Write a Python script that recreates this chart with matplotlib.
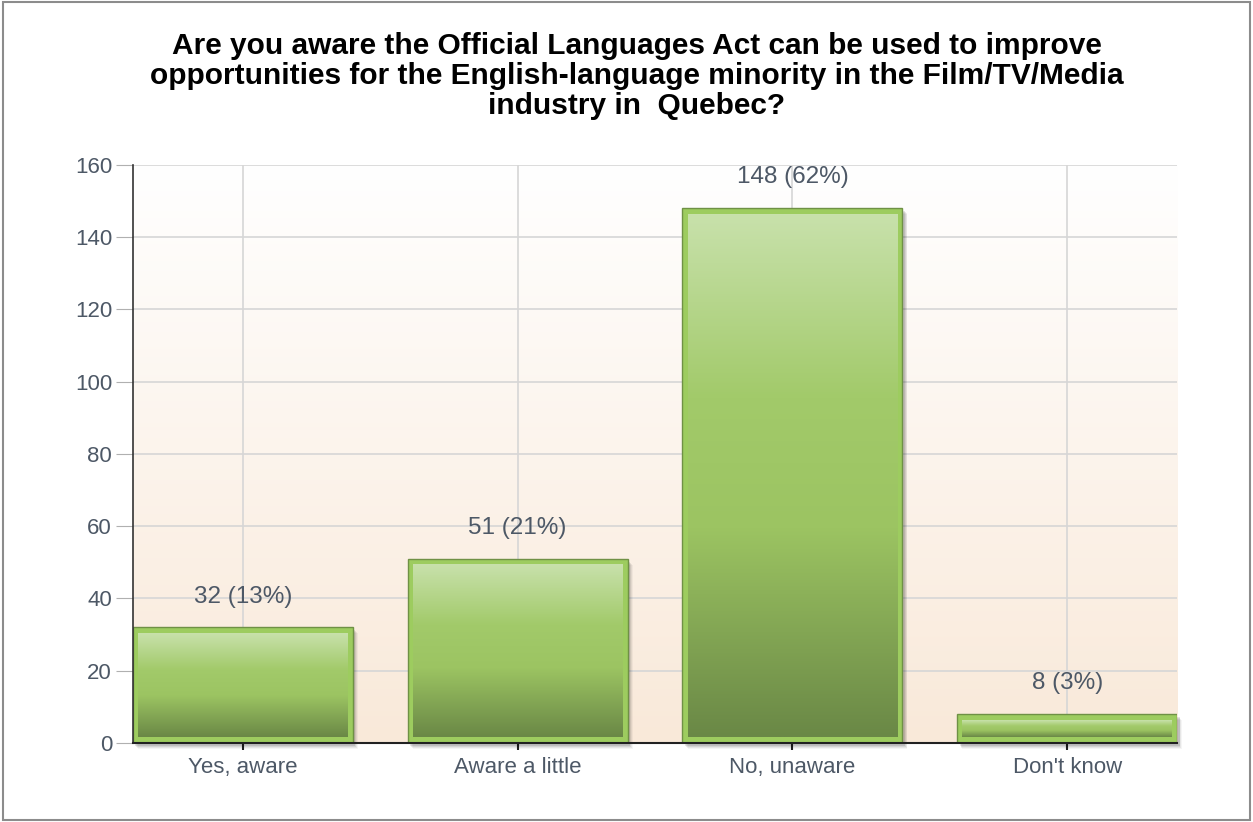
import numpy as np
import matplotlib
matplotlib.use("Agg")
import matplotlib.pyplot as plt
import matplotlib.patches
from matplotlib.colors import LinearSegmentedColormap

plt.rcParams["font.family"] = ["Liberation Sans", "DejaVu Sans"]

categories = ["Yes, aware", "Aware a little", "No, unaware", "Don't know"]
counts = [32, 51, 148, 8]
percents = [13, 21, 62, 3]
yticks = [0, 20, 40, 60, 80, 100, 120, 140, 160]
title = ("Are you aware the Official Languages Act can be used to improve\n"
         "opportunities for the English-language minority in the Film/TV/Media\n"
         "industry in  Quebec?")

TEXT = "#4d5866"
bar_cmap = LinearSegmentedColormap.from_list(
    "bar", [(0.0, "#c8e1ab"), (0.35, "#a2ca6a"), (0.6, "#9cc462"), (1.0, "#6a8846")])
bg_cmap = LinearSegmentedColormap.from_list("bg", ["#ffffff", "#f9e9d9"])

fig = plt.figure(figsize=(12.53, 8.22), dpi=100)
fig.patches.append(matplotlib.patches.Rectangle(
    (0.002, 0.003), 0.996, 0.994, transform=fig.transFigure,
    fill=False, edgecolor="#8c8c8c", linewidth=1.5))

ax = fig.add_axes([0.1061, 0.0961, 0.8333, 0.7032])
x = np.arange(len(categories))
width = 0.8
ax.set_xlim(-0.4, len(categories) - 0.6)
ax.set_ylim(0, 160)

# soft peach background fading up to white
grad = np.linspace(0, 1, 256).reshape(-1, 1)
ax.imshow(grad, cmap=bg_cmap, aspect="auto", extent=(-0.4, len(categories) - 0.6, 0, 160),
          origin="upper", zorder=0)

ax.set_yticks(yticks)
ax.set_xticks(x)
ax.set_xticklabels(categories)
ax.grid(True, color="#d6d6d6", linewidth=1.2, zorder=1)
ax.set_axisbelow(True)

bars = ax.bar(x, counts, width=width, color="#9dcc5f", edgecolor="#6f9145",
              linewidth=1.0, zorder=3)

px = 0.8 * len(categories) / 1044  # data units per pixel in x
py = 160 / 578
for b, c, p in zip(bars, counts, percents):
    x0, w, h = b.get_x(), b.get_width(), b.get_height()
    # drop shadow
    for k, a in enumerate([0.10, 0.08, 0.06, 0.04]):
        ax.add_patch(matplotlib.patches.Rectangle(
            (x0 + (3 + k) * px, -(3 + k) * py), w, h, facecolor="#000000",
            alpha=a, edgecolor="none", zorder=2, clip_on=False))
    # inner gradient inset within the bright green border
    ix, iy = 6 * px, 6 * py
    ax.imshow(grad, cmap=bar_cmap, aspect="auto",
              extent=(x0 + ix, x0 + w - ix, iy, max(h - iy, iy * 1.5)),
              origin="upper", zorder=4)
    ax.text(b.get_x() + w / 2, h + 5.5, f"{c} ({p}%)", ha="center", va="bottom",
            fontsize=17.5, color=TEXT, zorder=5)

for s in ["top", "right"]:
    ax.spines[s].set_visible(False)
ax.spines["left"].set_color("#333333")
ax.spines["bottom"].set_color("#222222")
ax.spines["left"].set_linewidth(1.2)
ax.spines["bottom"].set_linewidth(1.5)
ax.spines["left"].set_zorder(6)
ax.spines["bottom"].set_zorder(6)
ax.tick_params(axis="y", length=12, color="#b0b0b0", labelsize=16, labelcolor=TEXT, pad=3)
ax.tick_params(axis="x", length=5, color="#222222", width=1.5, labelsize=16,
               labelcolor=TEXT, pad=5)

fig.text(0.508, 0.961, title, ha="center", va="top", fontsize=21.5,
         fontweight="bold", color="#000000", linespacing=1.1)

fig.savefig("out.png", dpi=100)
